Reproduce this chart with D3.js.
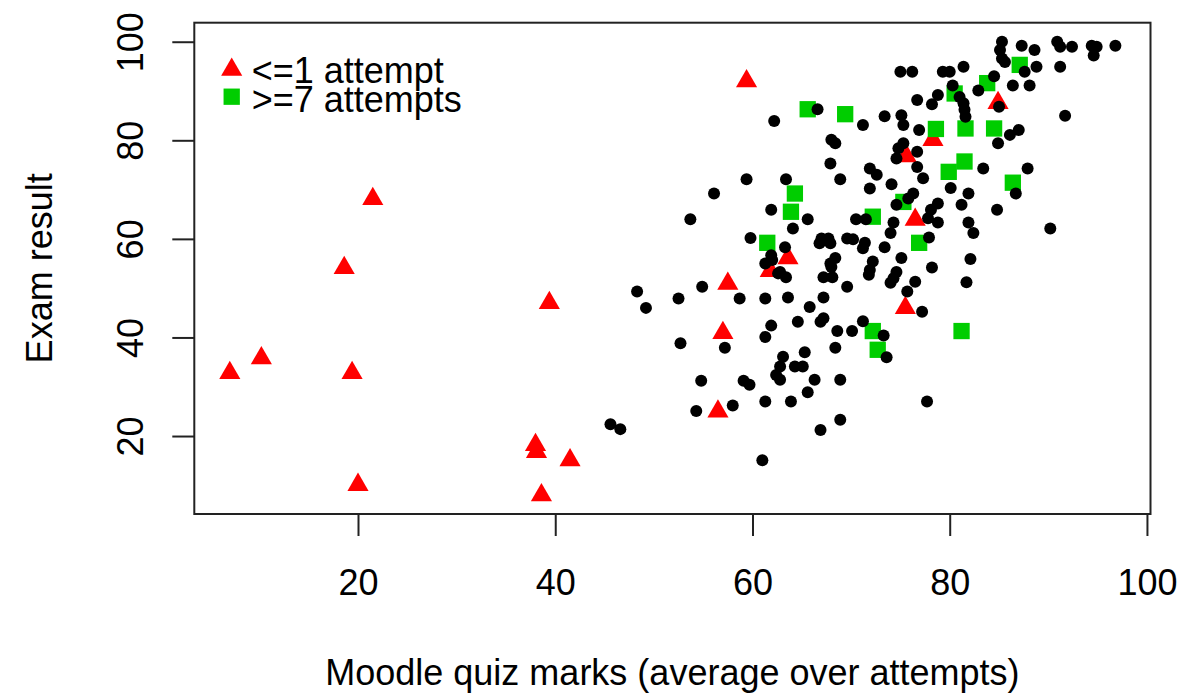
<!DOCTYPE html>
<html>
<head>
<meta charset="utf-8">
<script src="https://cdn.jsdelivr.net/npm/d3@7"></script>
<style>
  html, body { margin: 0; padding: 0; background: #fff; }
  svg text { font-family: "Liberation Sans", Arial, sans-serif; fill: #000; }
</style>
</head>
<body>
<svg id="chart"></svg>
<script>
// ====== Données ====== //
// étudiants "ordinaires" (points noirs)
const blackX = [62.2,66.6,75.0,76.2,79.3,80.0,80.3,78.8,78.2,76.7,73.4,71.2,75.1,75.3,76.9,68.0,68.4,75.3,74.8,76.7,
  74.6,67.9,71.9,76.7,85.3,85.1,85.3,85.6,87.3,88.6,90.9,91.2,92.4,94.4,94.9,94.6,96.8,81.4,88.8,91.2,
  87.6,84.5,86.4,88.1,82.9,81.0,81.4,81.5,81.6,85.0,91.7,87.0,86.1,84.9,83.4,87.9,81.9,86.7,81.2,84.8,
  81.9,82.4,90.2,82.1,81.7,80.1,59.4,56.1,53.7,61.9,59.8,61.9,62.0,61.3,62.6,48.3,49.2,52.5,54.9,58.7,
  61.3,63.4,68.9,72.6,74.1,77.3,71.9,76.3,75.8,74.6,78.8,78.1,77.8,78.8,65.6,64.1,70.5,71.5,74.3,74.0,
  67.0,67.7,66.8,67.9,69.6,70.2,71.4,71.2,73.4,77.9,63.3,68.4,67.9,68.0,72.2,71.9,71.8,75.1,78.2,62.8,
  63.4,67.2,68.1,74.6,74.3,74.0,69.6,76.5,75.7,63.6,67.2,65.8,77.2,61.9,61.3,52.7,57.2,54.8,59.1,59.7,
  61.3,54.3,58.0,45.6,46.6,61.0,67.2,66.9,64.6,68.6,70.1,71.2,73.3,73.6,68.4,65.3,63.1,62.8,62.4,62.8,
  64.3,65.1,66.3,68.9,65.6,63.9,77.7,68.9,66.9];
const blackY = [83.9,86.3,93.9,93.9,93.9,93.9,91.1,89.2,87.3,88.2,84.9,83.1,85.1,83.1,82.1,80.1,79.4,79.4,78.4,77.7,
  76.3,75.3,74.3,74.6,100.0,98.3,96.6,95.9,99.2,98.3,100.0,99.0,99.0,99.2,99.0,97.2,99.2,94.9,94.9,94.9,
  93.9,93.0,91.1,91.1,90.1,88.8,87.5,86.2,84.8,86.8,85.0,82.1,81.1,79.4,74.3,74.3,69.2,69.2,66.9,65.9,
  63.3,61.2,62.1,55.9,51.2,70.3,72.1,69.2,64.0,65.9,60.2,56.7,55.7,55.0,53.0,49.3,46.0,47.9,50.3,47.9,
  47.9,72.1,72.1,73.0,71.1,72.3,70.2,69.2,68.2,66.9,67.2,65.9,64.2,63.3,64.0,62.1,64.0,64.0,63.3,61.2,
  60.1,60.1,59.1,59.1,60.1,59.9,59.2,58.1,58.3,60.3,58.3,56.1,55.0,54.3,55.4,53.7,52.7,56.1,54.2,53.3,
  52.2,52.2,52.2,53.3,52.0,51.1,50.3,51.3,49.3,48.1,48.1,46.2,45.2,42.4,40.1,38.8,37.9,31.2,31.2,30.4,
  27.0,25.1,26.2,22.4,21.4,15.1,43.9,43.2,43.2,41.3,41.3,43.3,40.4,36.0,37.9,37.0,36.1,34.1,32.4,31.4,
  34.1,34.1,31.4,31.4,28.9,27.0,27.0,23.3,21.2];

// <=1 tentative (triangles rouges)
const redX = [7.0,10.2,18.6,21.5,19.4,20.0,39.4,38.0,38.1,41.5,38.6,59.4,57.5,57.0,56.5,61.8,63.6,76.5,75.5,75.6,78.3,84.9];
const redY = [32.8,35.8,54.1,68.1,32.8,10.1,47.0,18.2,16.8,15.1,8.0,92.0,50.9,40.9,25.0,53.5,56.1,63.9,46.0,76.8,80.1,87.6];

// >=7 tentatives (carrés verts)
const greenX = [65.6,69.4,78.6,80.5,83.8,87.1,81.6,84.5,81.5,86.4,79.9,61.5,64.3,63.9,72.2,75.3,76.9,72.2,72.7,81.2];
const greenY = [86.3,85.3,82.3,89.5,91.6,95.3,82.4,82.4,75.7,71.4,73.6,59.2,69.2,65.5,64.5,67.5,59.2,41.3,37.5,41.3];

const tickValues = [20, 40, 60, 80, 100];
const legendLabels = ["<=1 attempt", ">=7 attempts"];
const xTitle = "Moodle quiz marks (average over attempts)";
const yTitle = "Exam result";

// ====== Constantes de mise en page ====== //
const width = 1200, height = 695;
const plot = { left: 194.3, right: 1150.5, top: 22.7, bottom: 514 };
const RED = "#ff0000", GREEN = "#00cd00";
const FONT = 36;

const svg = d3.select("#chart").attr("width", width).attr("height", height);
svg.append("rect").attr("width", width).attr("height", height).attr("fill", "#fff");

// Échelles (limites type R : étendue des données + 4 %)
const x = d3.scaleLinear().domain([3.40, 100.36]).range([plot.left, plot.right]);
const y = d3.scaleLinear().domain([4.18, 103.86]).range([plot.bottom, plot.top]);

// triangle façon pch=17 : sommet à r au-dessus, base à r/2 en dessous
function triangle(cx, cy, r) {
  const hw = r * Math.sqrt(3) / 2;
  return `M${cx},${cy - r}L${cx + hw},${cy + r / 2}L${cx - hw},${cy + r / 2}Z`;
}
const TRI_R = 12.2, SQ = 16.3, DOT_R = 6;

// ---- points : rouge, puis vert, puis noir ---- //
const redPts = redX.map((v, i) => [v, redY[i]]);
const greenPts = greenX.map((v, i) => [v, greenY[i]]);
const blackPts = blackX.map((v, i) => [v, blackY[i]]);

svg.append("g").selectAll("path").data(redPts).join("path")
  .attr("d", d => triangle(x(d[0]), y(d[1]), TRI_R))
  .attr("fill", RED);

svg.append("g").selectAll("rect").data(greenPts).join("rect")
  .attr("x", d => x(d[0]) - SQ / 2)
  .attr("y", d => y(d[1]) - SQ / 2)
  .attr("width", SQ).attr("height", SQ)
  .attr("fill", GREEN);

svg.append("g").selectAll("circle").data(blackPts).join("circle")
  .attr("cx", d => x(d[0]))
  .attr("cy", d => y(d[1]))
  .attr("r", DOT_R)
  .attr("fill", "#000");

// ---- cadre ---- //
svg.append("rect")
  .attr("x", plot.left).attr("y", plot.top)
  .attr("width", plot.right - plot.left).attr("height", plot.bottom - plot.top)
  .attr("fill", "none").attr("stroke", "#222").attr("stroke-width", 2);

// ---- axes ---- //
const xAxis = svg.append("g")
  .attr("transform", `translate(0,${plot.bottom})`)
  .call(d3.axisBottom(x).tickValues(tickValues).tickSize(22).tickFormat(d3.format("d")));
xAxis.select(".domain").remove();
xAxis.selectAll(".tick line").attr("stroke", "#222").attr("stroke-width", 2);
xAxis.selectAll(".tick text")
  .attr("y", 81).attr("dy", 0)
  .attr("font-size", FONT).attr("font-family", null).attr("fill", "#000");

const yAxis = svg.append("g")
  .attr("transform", `translate(${plot.left},0)`)
  .call(d3.axisLeft(y).tickValues(tickValues).tickSize(22).tickFormat(d3.format("d")));
yAxis.select(".domain").remove();
yAxis.selectAll(".tick line").attr("stroke", "#222").attr("stroke-width", 2);
yAxis.selectAll(".tick text")
  .attr("x", 0).attr("dy", 0)
  .attr("transform", "translate(-51,0) rotate(-90)")
  .attr("text-anchor", "middle")
  .attr("font-size", FONT).attr("font-family", null).attr("fill", "#000");

// ---- titres ---- //
svg.append("text")
  .attr("x", (plot.left + plot.right) / 2).attr("y", 685)
  .attr("text-anchor", "middle").attr("font-size", FONT)
  .text(xTitle);

svg.append("text")
  .attr("transform", `translate(52,${(plot.top + plot.bottom) / 2}) rotate(-90)`)
  .attr("text-anchor", "middle").attr("font-size", FONT)
  .text(yTitle);

// ---- légende ---- //
const legend = svg.append("g");
legend.append("path").attr("d", triangle(231.7, 69.7, TRI_R)).attr("fill", RED);
legend.append("rect")
  .attr("x", 231.7 - SQ / 2).attr("y", 96.7 - SQ / 2)
  .attr("width", SQ).attr("height", SQ).attr("fill", GREEN);
// un seul bloc de texte : les deux lignes sont serrées comme dans R
legend.append("text")
  .attr("font-size", FONT)
  .selectAll("tspan").data(legendLabels).join("tspan")
  .attr("x", 251.7)
  .attr("y", (d, i) => i === 0 ? 83.3 : 111.7)
  .text(d => d);
</script>
</body>
</html>
